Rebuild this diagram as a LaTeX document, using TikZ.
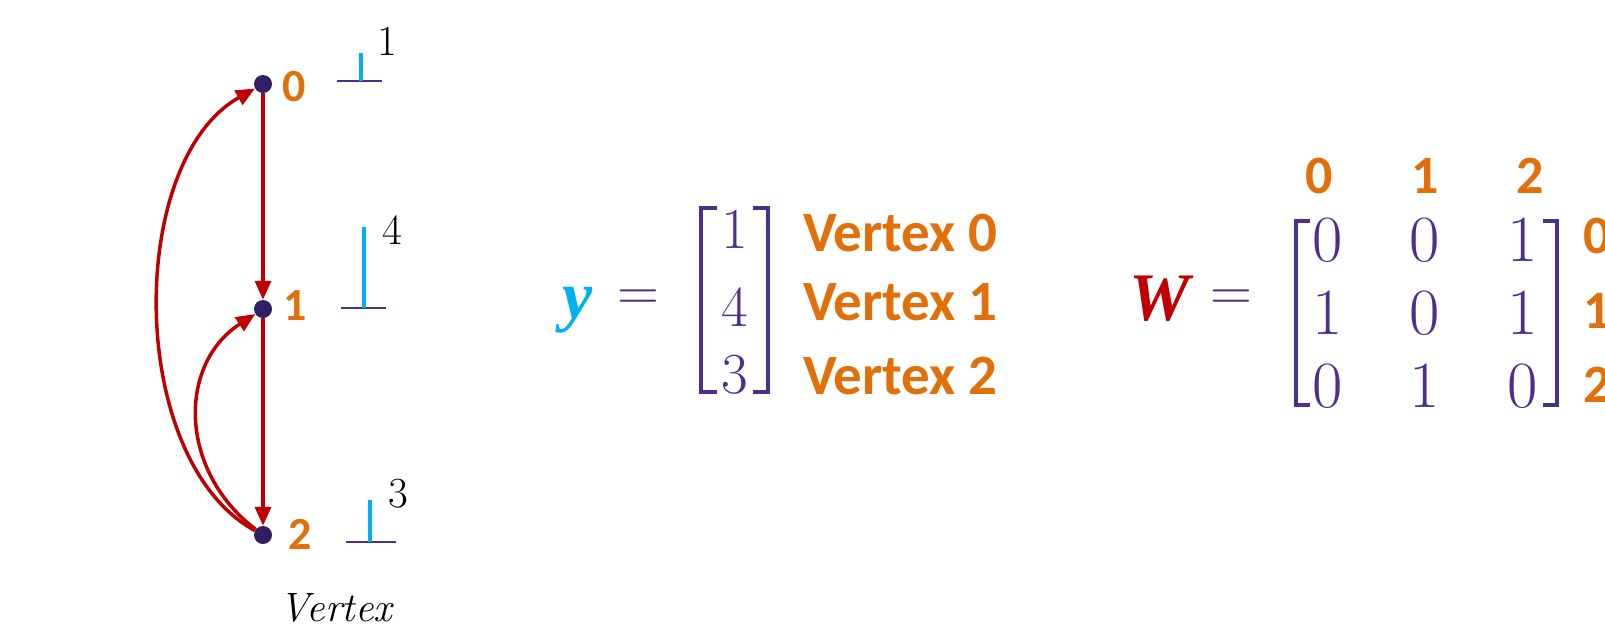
\documentclass[tikz,border=0pt]{standalone}
\usepackage{fontspec}
\usetikzlibrary{arrows.meta}
\newfontfamily\labelfont{Carlito}
\newfontfamily\symfont{Liberation Serif}

\definecolor{vorange}{RGB}{226,112,10}
\definecolor{edgered}{RGB}{192,0,0}
\definecolor{barcyan}{RGB}{0,176,240}
\definecolor{matpurple}{RGB}{78,46,140}
\definecolor{dotpurple}{RGB}{50,30,100}

\tikzset{
  dot/.style={circle, fill=dotpurple, inner sep=0pt, minimum size=18pt},
  edge/.style={draw=edgered, line width=3.5pt, -{Triangle[length=19pt,width=16pt]}},
  vlabel/.style={inner sep=0pt, text=vorange, font=\labelfont\bfseries\fontsize{46}{50}\selectfont},
  vallabel/.style={inner sep=0pt, text=black, font=\fontsize{43}{46}\selectfont},
  baseline/.style={draw=matpurple, line width=2.5pt},
  valbar/.style={draw=barcyan, line width=3.5pt},
  bracket/.style={draw=matpurple, line width=3.5pt},
  ydigit/.style={inner sep=0pt, text=matpurple, font=\fontsize{58}{60}\selectfont},
  wdigit/.style={inner sep=0pt, text=matpurple, font=\fontsize{66}{68}\selectfont},
  rowname/.style={inner sep=0pt, anchor=west, text=vorange, font=\labelfont\bfseries\fontsize{57}{60}\selectfont},
  idxname/.style={inner sep=0pt, text=vorange, font=\labelfont\bfseries\fontsize{54}{58}\selectfont},
  eqsign/.style={inner sep=0pt, text=matpurple, font=\fontsize{58}{60}\selectfont},
}

\begin{document}
\begin{tikzpicture}[x=1pt, y=-1pt]
  \useasboundingbox (0,0) rectangle (1605,630);
  \clip (0,0) rectangle (1605,630);

  % graph vertices
  \node[dot] (n0) at (263,84) {};
  \node[dot] (n1) at (263,309) {};
  \node[dot] (n2) at (263,535) {};

  \node[vlabel] (l0) at (294,87) {0};
  \node[vlabel] (l1) at (295,306) {1};
  \node[vlabel] (l2) at (300,534) {2};

  % directed edges
  \draw[edge] (n0) -- (n1);
  \draw[edge] (n1) -- (n2);
  \draw[edge] (n2) .. controls (126,460) and (126,161) .. (n0);
  \draw[edge] (n2) .. controls (178,470) and (178,364) .. (n1);

  % vertex values as bars
  \draw[baseline] (337,81) -- (382,81);
  \draw[valbar] (361,81) -- (361,53);
  \node[vallabel] (v0) at (387,41) {1};

  \draw[baseline] (341,308) -- (386,308);
  \draw[valbar] (364,308) -- (364,227);
  \node[vallabel] (v1) at (392,230) {4};

  \draw[baseline] (346,542) -- (396,542);
  \draw[valbar] (370,542) -- (370,500);
  \node[vallabel] (v2) at (398,494) {3};

  \node[inner sep=0pt, anchor=base, font=\itshape\fontsize{41}{44}\selectfont] (vname) at (336,621) {Vertex};

  % signal vector y
  \node[inner sep=0pt, anchor=base, text=barcyan, font=\symfont\bfseries\itshape\fontsize{68}{70}\selectfont] (ysym) at (578,318) {y};
  \node[eqsign] (yeq) at (638,300) {=};
  \draw[bracket] (717,208) -- (701,208) -- (701,392) -- (717,392);
  \draw[bracket] (753,208) -- (768,208) -- (768,392) -- (753,392);
  \node[ydigit] (y0) at (735,229) {1};
  \node[ydigit] (y1) at (735,307) {4};
  \node[ydigit] (y2) at (735,375) {3};
  \node[rowname] (yn0) at (803,233) {Vertex 0};
  \node[rowname] (yn1) at (803,302) {Vertex 1};
  \node[rowname] (yn2) at (803,376) {Vertex 2};

  % adjacency matrix W
  \node[inner sep=0pt, anchor=base, text=edgered, font=\symfont\bfseries\itshape\fontsize{68}{70}\selectfont] (wsym) at (1160,320) {W};
  \node[eqsign] (weq) at (1231,300) {=};
  \draw[bracket] (1310,221) -- (1296,221) -- (1296,405) -- (1310,405);
  \draw[bracket] (1543,221) -- (1557,221) -- (1557,405) -- (1543,405);

  \node[idxname] (c0) at (1319,176) {0};
  \node[idxname] (c1) at (1425,176) {1};
  \node[idxname] (c2) at (1530,176) {2};

  \node[wdigit] at (1328,240) {0};
  \node[wdigit] at (1425,240) {0};
  \node[wdigit] at (1523,240) {1};
  \node[wdigit] at (1328,313) {1};
  \node[wdigit] at (1425,313) {0};
  \node[wdigit] at (1523,313) {1};
  \node[wdigit] at (1328,386) {0};
  \node[wdigit] at (1425,386) {1};
  \node[wdigit] at (1523,386) {0};

  \node[idxname, anchor=west] (r0) at (1583,236) {0};
  \node[idxname, anchor=west] (r1) at (1583,311) {1};
  \node[idxname, anchor=west] (r2) at (1583,385) {2};
\end{tikzpicture}
\end{document}
